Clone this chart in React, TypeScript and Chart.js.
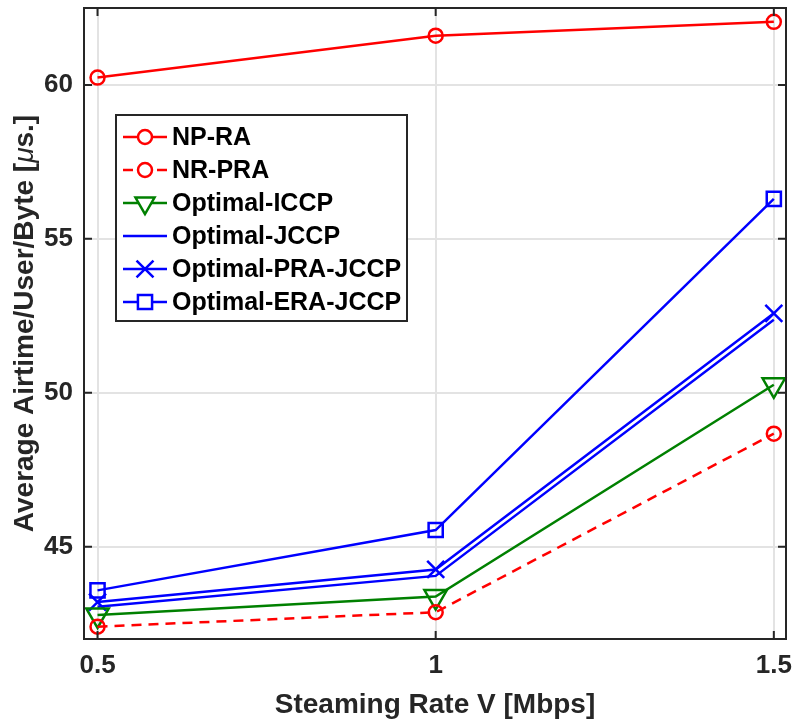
import React, { useEffect, useRef } from 'react';
import { Chart, registerables } from 'chart.js';
import { drawPoint } from 'chart.js/helpers';

Chart.register(...registerables);

const rates = [0.5, 1, 1.5];
const xTicks = [0.5, 1, 1.5];
const yTicks = [45, 50, 55, 60];

const labels = ['NP-RA', 'NR-PRA', 'Optimal-ICCP', 'Optimal-JCCP', 'Optimal-PRA-JCCP', 'Optimal-ERA-JCCP'];
const npRA = [60.24, 61.6, 62.05];
const nrPRA = [42.4, 42.87, 48.67];
const optICCP = [42.78, 43.38, 50.26];
const optJCCP = [43.05, 44.05, 52.37];
const optPRAJCCP = [43.2, 44.26, 52.58];
const optERAJCCP = [43.58, 45.54, 56.3];

const xTitle = 'Steaming Rate V [Mbps]';
const yTitleParts = ['Average Airtime/User/Byte [', 'μ', 's.]'];

const FONT = '"Liberation Sans", Arial, Helvetica, sans-serif';
const AXIS_COLOR = '#262626';

const series = [
  { label: labels[0], data: npRA, color: '#ff0000', dash: [] as number[], style: 'circle', radius: 7, rotation: 0 },
  { label: labels[1], data: nrPRA, color: '#ff0000', dash: [10, 7], style: 'circle', radius: 7, rotation: 0 },
  { label: labels[2], data: optICCP, color: '#008000', dash: [], style: 'triangle', radius: 13, rotation: 180 },
  { label: labels[3], data: optJCCP, color: '#0000ff', dash: [], style: 'circle', radius: 0, rotation: 0 },
  { label: labels[4], data: optPRAJCCP, color: '#0000ff', dash: [], style: 'crossRot', radius: 12, rotation: 0 },
  { label: labels[5], data: optERAJCCP, color: '#0000ff', dash: [], style: 'rect', radius: 10, rotation: 0 },
];

const framePlugin = {
  id: 'frame',
  afterDatasetsDraw(chart: any) {
    const { ctx, chartArea } = chart;
    const { left, right, top, bottom } = chartArea;
    const xs = chart.scales.x;
    const ys = chart.scales.y;
    ctx.save();
    ctx.strokeStyle = AXIS_COLOR;
    ctx.lineWidth = 2;
    ctx.setLineDash([]);
    ctx.strokeRect(left, top, right - left, bottom - top);
    const tl = 8;
    ctx.beginPath();
    xTicks.forEach((v) => {
      const px = xs.getPixelForValue(v);
      ctx.moveTo(px, bottom);
      ctx.lineTo(px, bottom - tl);
      ctx.moveTo(px, top);
      ctx.lineTo(px, top + tl);
    });
    yTicks.forEach((v) => {
      const py = ys.getPixelForValue(v);
      ctx.moveTo(left, py);
      ctx.lineTo(left + tl, py);
      ctx.moveTo(right, py);
      ctx.lineTo(right - tl, py);
    });
    ctx.stroke();

    // legend
    const lx = 116, ly = 115, lw = 291, lh = 206;
    ctx.fillStyle = '#ffffff';
    ctx.fillRect(lx, ly, lw, lh);
    ctx.strokeStyle = AXIS_COLOR;
    ctx.lineWidth = 2;
    ctx.strokeRect(lx, ly, lw, lh);
    series.forEach((s, i) => {
      const cy = 137 + i * 33;
      ctx.strokeStyle = s.color;
      ctx.lineWidth = 2.5;
      ctx.setLineDash(s.dash);
      ctx.beginPath();
      ctx.moveTo(123, cy);
      ctx.lineTo(167, cy);
      ctx.stroke();
      ctx.setLineDash([]);
      if (s.radius > 0) {
        ctx.fillStyle = '#ffffff';
        drawPoint(ctx, { pointStyle: s.style, radius: s.style === 'triangle' ? 11 : s.radius, rotation: s.rotation, borderWidth: 2.5 }, 145, cy);
      }
      ctx.fillStyle = '#000000';
      ctx.font = `bold 25px ${FONT}`;
      ctx.textBaseline = 'middle';
      ctx.textAlign = 'left';
      ctx.fillText(s.label, 172, cy + 1);
    });

    // y title
    ctx.save();
    ctx.translate(25.5, (top + bottom) / 2);
    ctx.rotate(-Math.PI / 2);
    ctx.fillStyle = AXIS_COLOR;
    ctx.textBaseline = 'middle';
    ctx.textAlign = 'left';
    const fonts = [`bold 28px ${FONT}`, `italic 28px ${FONT}`, `bold 28px ${FONT}`];
    const widths = yTitleParts.map((t, i) => {
      ctx.font = fonts[i];
      return ctx.measureText(t).width;
    });
    const total = widths.reduce((a, b) => a + b, 0);
    let x = -total / 2;
    yTitleParts.forEach((t, i) => {
      ctx.font = fonts[i];
      ctx.fillText(t, x, 0);
      x += widths[i];
    });
    ctx.restore();
    ctx.restore();
  },
};

export default function App() {
  const ref = useRef<HTMLCanvasElement | null>(null);
  useEffect(() => {
    if (!ref.current) return;
    const chart = new Chart(ref.current, {
      type: 'line',
      data: {
        datasets: series.map((s) => ({
          label: s.label,
          data: rates.map((r, i) => ({ x: r, y: s.data[i] })),
          borderColor: s.color,
          backgroundColor: '#ffffff',
          borderWidth: 2.5,
          borderDash: s.dash,
          pointStyle: s.style as any,
          pointRadius: s.radius,
          pointRotation: s.rotation,
          pointBorderColor: s.color,
          pointBackgroundColor: 'rgba(255,255,255,0)',
          pointBorderWidth: 2.5,
          tension: 0,
          clip: false as any,
        })),
      },
      options: {
        animation: false,
        responsive: false,
        devicePixelRatio: 1,
        layout: { autoPadding: false, padding: { left: 0, top: 8, right: 9, bottom: 1 } },
        plugins: { legend: { display: false }, tooltip: { enabled: false } },
        scales: {
          x: {
            type: 'linear',
            min: 0.48,
            max: 1.518,
            afterBuildTicks: (scale: any) => {
              scale.ticks = xTicks.map((v) => ({ value: v }));
            },
            afterFit: (scale: any) => {
              scale.height = 83;
              scale.paddingLeft = 0;
              scale.paddingRight = 0;
            },
            grid: { color: '#e3e3e3', lineWidth: 2, drawTicks: false },
            border: { display: false },
            ticks: {
              padding: 11,
              color: AXIS_COLOR,
              font: { family: FONT, size: 26, weight: 'bold' },
              callback: (v: any) => String(v),
            },
            title: {
              display: true,
              text: xTitle,
              color: AXIS_COLOR,
              font: { family: FONT, size: 28, weight: 'bold' },
              padding: { top: 0, bottom: 0 },
            },
          },
          y: {
            type: 'linear',
            min: 42,
            max: 62.5,
            afterBuildTicks: (scale: any) => {
              scale.ticks = yTicks.map((v) => ({ value: v }));
            },
            afterFit: (scale: any) => {
              scale.width = 84;
              scale.paddingTop = 0;
              scale.paddingBottom = 0;
            },
            grid: { color: '#e3e3e3', lineWidth: 2, drawTicks: false },
            border: { display: false },
            ticks: {
              padding: 11,
              color: AXIS_COLOR,
              font: { family: FONT, size: 26, weight: 'bold' },
              callback: (v: any) => String(v),
            },
          },
        },
      },
      plugins: [framePlugin],
    } as any);
    return () => chart.destroy();
  }, []);
  return (
    <div style={{ position: 'fixed', left: 0, top: 0, width: 795, height: 723, background: '#ffffff' }}>
      <canvas ref={ref} width={795} height={723} />
    </div>
  );
}
